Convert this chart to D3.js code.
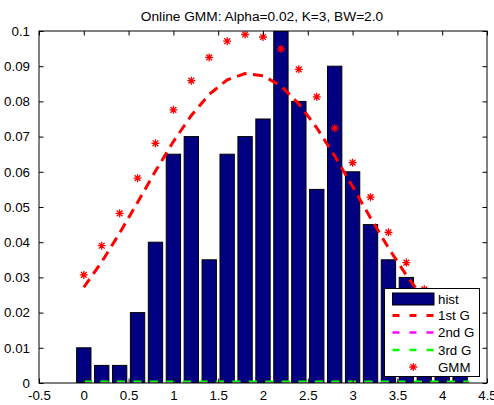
<!DOCTYPE html>
<html>
<head>
<meta charset="utf-8">
<script src="https://cdn.jsdelivr.net/npm/d3@7"></script>
<style>
  html, body { margin: 0; padding: 0; background: #fff; }
  svg { display: block; }
  text { font-family: "Liberation Sans", Arial, Helvetica, sans-serif; fill: #000; }
</style>
</head>
<body>
<svg id="chart" width="494" height="405"></svg>
<script>
// ---------------- data ----------------
const titleText = "Online GMM: Alpha=0.02, K=3, BW=2.0";
const binCenters = [0, 0.2, 0.4, 0.6, 0.8, 1.0, 1.2, 1.4, 1.6, 1.8, 2.0, 2.2, 2.4, 2.6, 2.8, 3.0, 3.2, 3.4, 3.6, 3.8, 4.0, 4.2];
const histValues = [0.01, 0.005, 0.005, 0.02, 0.04, 0.065, 0.07, 0.035, 0.065, 0.07, 0.075, 0.1, 0.08, 0.055, 0.09, 0.06, 0.045, 0.035, 0.03, 0.02, 0.015, 0.01];
const gmmValues = [0.0307, 0.039, 0.0482, 0.0582, 0.0681, 0.0776, 0.0859, 0.0925, 0.0971, 0.099, 0.0983, 0.0949, 0.0891, 0.0813, 0.0724, 0.0626, 0.0528, 0.0428, 0.0342, 0.0266, 0.020, 0.015];
const curveX = [0, 0.2, 0.4, 0.6, 0.8, 1.0, 1.2, 1.4, 1.6, 1.8, 2.0, 2.2, 2.4, 2.6, 2.8, 3.0, 3.2, 3.4, 3.6, 3.8, 4.0, 4.2, 4.3];
const firstG = [0.0272, 0.0344, 0.0426, 0.0513, 0.0602, 0.0686, 0.0760, 0.0820, 0.0861, 0.0879, 0.0873, 0.0844, 0.0793, 0.0725, 0.0645, 0.0558, 0.0469, 0.0384, 0.0306, 0.0237, 0.0179, 0.0131, 0.0111];
const secondG = [0.00005, 0.00005, 0.00005, 0.00005, 0.00005, 0.00005, 0.00005, 0.00005, 0.00005, 0.00005, 0.00005, 0.00005, 0.00005, 0.00005, 0.00005, 0.00005, 0.00005, 0.00005, 0.00005, 0.00005, 0.00005, 0.00005, 0.00005];
const thirdG = [0.0004, 0.0004, 0.0004, 0.0004, 0.0004, 0.0004, 0.0004, 0.0004, 0.0004, 0.0004, 0.0004, 0.0004, 0.0004, 0.0004, 0.0004, 0.0004, 0.0004, 0.0004, 0.0004, 0.0004, 0.0004, 0.0004, 0.0004];
const xTicks = [-0.5, 0, 0.5, 1, 1.5, 2, 2.5, 3, 3.5, 4, 4.5];
const xTickLabels = ["-0.5", "0", "0.5", "1", "1.5", "2", "2.5", "3", "3.5", "4", "4.5"];
const yTicks = [0, 0.01, 0.02, 0.03, 0.04, 0.05, 0.06, 0.07, 0.08, 0.09, 0.1];
const yTickLabels = ["0", "0.01", "0.02", "0.03", "0.04", "0.05", "0.06", "0.07", "0.08", "0.09", "0.1"];
const legendLabels = ["hist", "1st G", "2nd G", "3rd G", "GMM"];

// ---------------- layout ----------------
const W = 494, H = 405;
const M = { left: 39, top: 31, right: 7, bottom: 22 };
const pw = W - M.left - M.right, ph = H - M.top - M.bottom;
const FS = 13.3;

const svg = d3.select("#chart");
const g = svg.append("g").attr("transform", `translate(${M.left},${M.top})`);

const x = d3.scaleLinear().domain([-0.5, 4.5]).range([0, pw]);
const y = d3.scaleLinear().domain([0, 0.1]).range([ph, 0]);

// clip
svg.append("defs").append("clipPath").attr("id", "clip")
  .append("rect").attr("x", 0).attr("y", 0).attr("width", pw).attr("height", ph);

const barColor = "#000080";
const plot = g.append("g").attr("clip-path", "url(#clip)");

// bars
const barW = x(0.16) - x(0);
plot.selectAll("rect.bar").data(binCenters).enter().append("rect")
  .attr("class", "bar")
  .attr("x", (d) => x(d) - barW / 2)
  .attr("width", barW)
  .attr("y", (d, i) => y(histValues[i]))
  .attr("height", (d, i) => y(0) - y(histValues[i]))
  .attr("fill", barColor)
  .attr("stroke", "#000")
  .attr("stroke-width", 1);

// axes (box with inward ticks)
const tickLen = 4.5;
const axB = d3.axisBottom(x).tickValues(xTicks).tickFormat((d, i) => xTickLabels[i]).tickSizeInner(-tickLen).tickSizeOuter(0).tickPadding(8);
const axT = d3.axisTop(x).tickValues(xTicks).tickFormat("").tickSizeInner(-tickLen).tickSizeOuter(0);
const axL = d3.axisLeft(y).tickValues(yTicks).tickFormat((d, i) => yTickLabels[i]).tickSizeInner(-tickLen).tickSizeOuter(0).tickPadding(9);
const axR = d3.axisRight(y).tickValues(yTicks).tickFormat("").tickSizeInner(-tickLen).tickSizeOuter(0);

function styleAxis(sel) {
  sel.select(".domain").remove();
  sel.selectAll("line").attr("stroke", "#000").attr("stroke-width", 1);
  sel.selectAll("text").attr("font-size", FS).attr("fill", "#000")
    .style("font-family", '"Liberation Sans", Arial, sans-serif');
}
g.append("g").attr("transform", `translate(0,${ph})`).call(axB).call(styleAxis);
g.append("g").call(axT).call(styleAxis);
g.append("g").call(axL).call(styleAxis);
g.append("g").attr("transform", `translate(${pw},0)`).call(axR).call(styleAxis);
g.append("rect").attr("x", 0).attr("y", 0).attr("width", pw).attr("height", ph)
  .attr("fill", "none").attr("stroke", "#000").attr("stroke-width", 1);

// lines
const line = (vals) => d3.line().x((d, i) => x(curveX[i])).y((d, i) => y(vals[i]))(vals);
plot.append("path").attr("d", line(firstG)).attr("fill", "none")
  .attr("stroke", "#ff0000").attr("stroke-width", 3).attr("stroke-dasharray", "10,6.5");
plot.append("path").attr("d", line(secondG)).attr("fill", "none")
  .attr("stroke", "#ff00ff").attr("stroke-width", 2).attr("stroke-dasharray", "8.25,8.25");
plot.append("path").attr("d", line(thirdG)).attr("fill", "none")
  .attr("stroke", "#00ff00").attr("stroke-width", 2).attr("stroke-dasharray", "8.25,8.25");

// star markers
function starPath(cx, cy, r) {
  const dd = r * 0.72;
  return `M${cx - r},${cy}L${cx + r},${cy}M${cx},${cy - r}L${cx},${cy + r}` +
         `M${cx - dd},${cy - dd}L${cx + dd},${cy + dd}M${cx - dd},${cy + dd}L${cx + dd},${cy - dd}`;
}
plot.selectAll("path.star").data(binCenters).enter().append("path")
  .attr("class", "star")
  .attr("d", (d, i) => starPath(x(d), y(gmmValues[i]), 4))
  .attr("stroke", "#ff0000").attr("stroke-width", 1.3).attr("fill", "none");

// title
svg.append("text").attr("x", M.left + pw / 2 - 1).attr("y", 20.5)
  .attr("text-anchor", "middle").attr("font-size", 13.7).text(titleText);

// legend
const lg = svg.append("g");
const lx0 = 384.5, ly0 = 288.5, lw = 95, lh = 88;
lg.append("rect").attr("x", lx0).attr("y", ly0).attr("width", lw).attr("height", lh)
  .attr("fill", "#fff").attr("stroke", "#000").attr("stroke-width", 1);
const rowY = [299, 315.5, 332.5, 350, 367];
const sx0 = 392.5, sx1 = 434, tx = 438;
// hist swatch
lg.append("rect").attr("x", sx0).attr("y", rowY[0] - 6).attr("width", sx1 - sx0).attr("height", 12)
  .attr("fill", barColor).attr("stroke", "#000").attr("stroke-width", 1);
const lineStyles = [null, ["#ff0000", 3], ["#ff00ff", 2.5], ["#00ff00", 2.5]];
for (let i = 1; i <= 3; i++) {
  lg.append("line").attr("x1", sx0).attr("x2", sx1).attr("y1", rowY[i]).attr("y2", rowY[i])
    .attr("stroke", lineStyles[i][0]).attr("stroke-width", lineStyles[i][1])
    .attr("stroke-dasharray", "7,10");
}
lg.append("path").attr("d", starPath((sx0 + sx1) / 2, rowY[4], 4))
  .attr("stroke", "#ff0000").attr("stroke-width", 1.3).attr("fill", "none");
legendLabels.forEach((t, i) => {
  lg.append("text").attr("x", tx).attr("y", rowY[i]).attr("dy", "0.35em")
    .attr("font-size", FS).text(t);
});
</script>
</body>
</html>
